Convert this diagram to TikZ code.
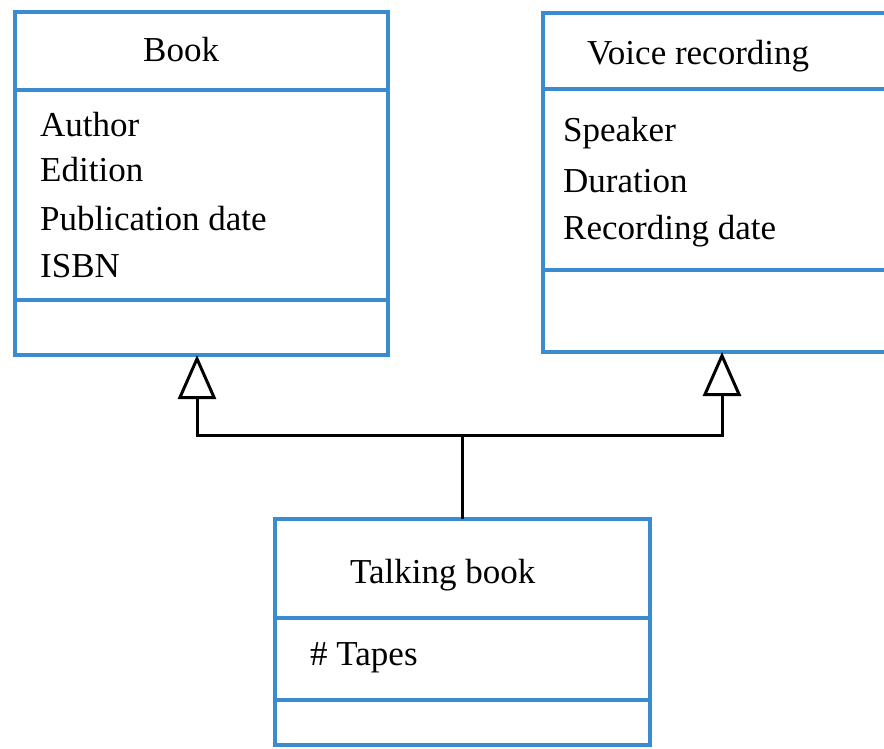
\documentclass[tikz,border=0pt]{standalone}
\usepackage{fontspec}
\setmainfont{Liberation Serif}
\usetikzlibrary{arrows.meta,calc}
\definecolor{umlblue}{HTML}{3A8CD0}
\begin{document}
\begin{tikzpicture}[x=1pt,y=-1pt,
  classbox/.style={draw=umlblue,line width=3.2pt,rectangle,anchor=north west,inner sep=0pt,outer sep=0pt},
  divider/.style={draw=umlblue,line width=3.2pt},
  attr/.style={font=\fontsize{35}{40}\selectfont,inner sep=0pt,anchor=base west},
  inh/.style={draw=black,line width=3pt,line join=miter,
    -{Triangle[open,length=44pt,width=38pt]}}]
\useasboundingbox (0,0) rectangle (884,749);
\clip (0,0) rectangle (884,749);
\fill[white] (0,0) rectangle (884,749);

% Book
\node[classbox,minimum width=373pt,minimum height=343pt] (book) at (15,12) {};
\draw[divider] ($(book.north west)+(0,78)$) -- ($(book.north east)+(0,78)$);
\draw[divider] ($(book.north west)+(0,288)$) -- ($(book.north east)+(0,288)$);
\node[attr] (bookT) at (143,62) {Book};
\node[attr] (bookA) at (40,137) {Author};
\node[attr] (bookE) at (40,182) {Edition};
\node[attr] (bookP) at (40,230) {Publication date};
\node[attr] (bookI) at (40,277) {ISBN};

% Voice recording
\node[classbox,minimum width=360pt,minimum height=339pt] (voice) at (543,13) {};
\draw[divider] ($(voice.north west)+(0,76)$) -- ($(voice.north east)+(0,76)$);
\draw[divider] ($(voice.north west)+(0,257)$) -- ($(voice.north east)+(0,257)$);
\node[attr] (voiceT) at (587,65) {Voice recording};
\node[attr] (voiceS) at (563,142) {Speaker};
\node[attr] (voiceD) at (563,193) {Duration};
\node[attr] (voiceR) at (563,240) {Recording date};

% Talking book
\node[classbox,minimum width=375pt,minimum height=226pt] (tb) at (275,519) {};
\draw[divider] ($(tb.north west)+(0,99)$) -- ($(tb.north east)+(0,99)$);
\draw[divider] ($(tb.north west)+(0,181)$) -- ($(tb.north east)+(0,181)$);
\node[attr] (tbT) at (350,583) {Talking book};
\node[attr] (tbA) at (310,665) {\# Tapes};

% Generalisation
\coordinate (hub) at (tb.north |- 0,435);
\draw[line width=3pt] (tb.north) -- (hub);
\draw[inh] (hub) -| ($(book.south west)+(182,0)$);
\draw[inh] (hub) -| ($(voice.south west)+(179,0)$);
\end{tikzpicture}
\end{document}
